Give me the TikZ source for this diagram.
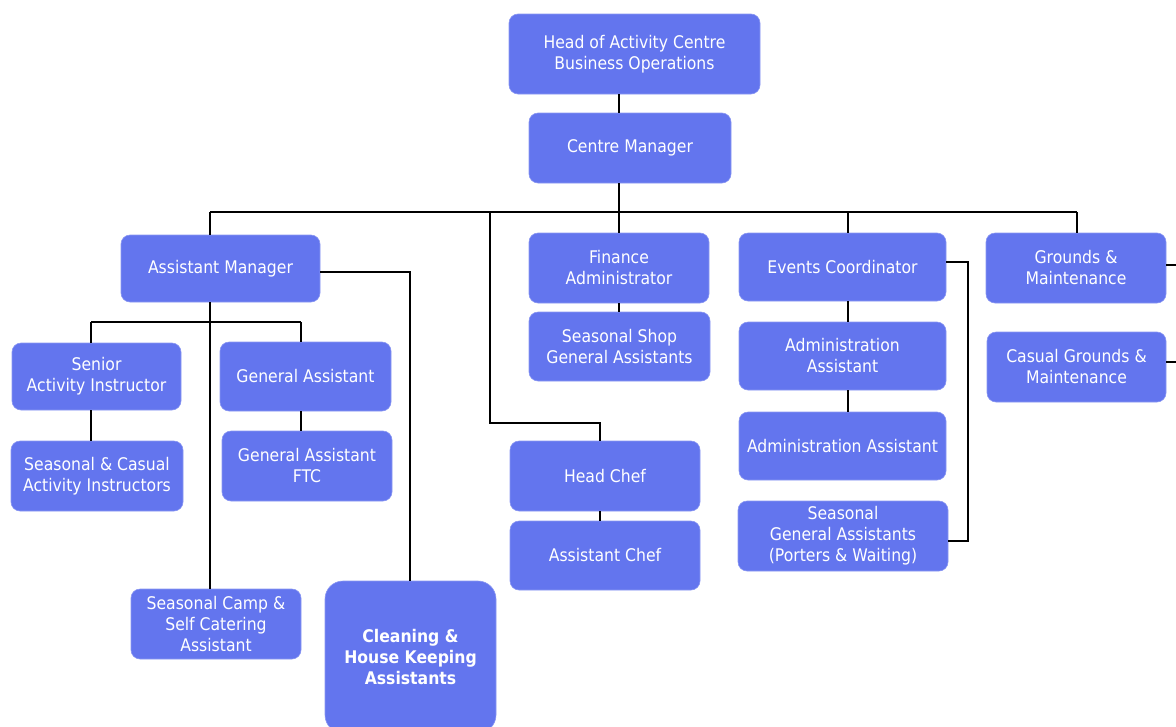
\documentclass[tikz,border=0pt]{standalone}
\usepackage{fontspec}
\setmainfont{DejaVu Sans}[FakeStretch=0.9]
\definecolor{boxblue}{HTML}{6375EE}
\definecolor{boxedge}{HTML}{8A97F2}
\begin{document}
\begin{tikzpicture}[x=1pt,y=-1pt,
  box/.style={rectangle, rounded corners=9pt, fill=boxblue, draw=boxedge, line width=0.6pt,
    text=white, align=center, inner sep=0pt, font=\fontsize{17.4}{21}\selectfont},
  conn/.style={draw=black, line width=1.6pt}]
\useasboundingbox (0,0) rectangle (1176,726);
% nodes
\node[box, minimum width=251pt, minimum height=80pt] (head) at (634.5,54) {Head of Activity Centre\\Business Operations};
\node[box, minimum width=202pt, minimum height=70pt] (cm) at (630,148) {Centre Manager};
\node[box, minimum width=199pt, minimum height=67pt] (am) at (220.5,268.5) {Assistant Manager};
\node[box, minimum width=169pt, minimum height=67pt] (sai) at (96.5,376.5) {Senior\\Activity Instructor};
\node[box, minimum width=172pt, minimum height=70pt] (sca) at (97,476) {Seasonal \& Casual\\Activity Instructors};
\node[box, minimum width=171pt, minimum height=69pt] (ga) at (305.5,376.5) {General Assistant};
\node[box, minimum width=170pt, minimum height=70pt] (gaf) at (307,466) {General Assistant\\FTC};
\node[box, minimum width=170pt, minimum height=70pt] (scs) at (216,624) {Seasonal Camp \&\\Self Catering\\Assistant};
\node[box, rounded corners=18pt, minimum width=171pt, minimum height=152pt, font=\fontsize{17.4}{21}\selectfont\bfseries] (clean) at (410.5,657) {Cleaning \&\\House Keeping\\Assistants};
\node[box, minimum width=180pt, minimum height=70pt] (fin) at (619,268) {Finance\\Administrator};
\node[box, minimum width=181pt, minimum height=69pt] (shop) at (619.5,346.5) {Seasonal Shop\\General Assistants};
\node[box, minimum width=190pt, minimum height=70pt] (chef) at (605,476) {Head Chef};
\node[box, minimum width=190pt, minimum height=69pt] (achef) at (605,555.5) {Assistant Chef};
\node[box, minimum width=207pt, minimum height=68pt] (ev) at (842.5,267) {Events Coordinator};
\node[box, minimum width=207pt, minimum height=68pt] (adm1) at (842.5,356) {Administration\\Assistant};
\node[box, minimum width=207pt, minimum height=68pt] (adm2) at (842.5,446) {Administration Assistant};
\node[box, minimum width=210pt, minimum height=70pt] (sga) at (843,536) {Seasonal\\General Assistants\\(Porters \& Waiting)};
\node[box, minimum width=180pt, minimum height=70pt] (gm) at (1076,268) {Grounds \&\\Maintenance};
\node[box, minimum width=179pt, minimum height=70pt] (cgm) at (1076.5,367) {Casual Grounds \&\\Maintenance};
% junction coordinates
\coordinate (trunk) at (619,212);
\coordinate (busL) at (210,212);
\coordinate (busR) at (1077,212);
\coordinate (hcj) at (490,212);
\coordinate (hcturn) at (600,423);
\coordinate (evj) at (848,212);
\coordinate (amR) at (410,272);
\coordinate (amBus) at (210,322);
\coordinate (amBusL) at (91,322);
\coordinate (amBusR) at (301,322);
\coordinate (evR) at (968,262);
\coordinate (gmEnd) at (1176,265);
\coordinate (cgmEnd) at (1176,362);
% connectors
\begin{scope}[every path/.style={conn}]
\draw (head.south -| trunk) -- (cm.north -| trunk);
\draw (cm.south -| trunk) -- (fin.north -| trunk);
\draw (busL) -- (busR);
\draw (busL) -- (am.north -| busL);
\draw (evj) -- (ev.north -| evj);
\draw (busR) -- (gm.north -| busR);
\draw (hcj) |- (hcturn) -- (chef.north -| hcturn);
\draw (chef.south -| hcturn) -- (achef.north -| hcturn);
\draw (fin.south -| trunk) -- (shop.north -| trunk);
\draw (am.south -| amBus) -- (scs.north -| amBus);
\draw (amBusL) -- (amBusR);
\draw (amBusL) -- (sai.north -| amBusL);
\draw (amBusR) -- (ga.north -| amBusR);
\draw (sai.south -| amBusL) -- (sca.north -| amBusL);
\draw (ga.south -| amBusR) -- (gaf.north -| amBusR);
\draw (am.east |- amR) -- (amR) -- (clean.north -| amR);
\draw (ev.south -| evj) -- (adm1.north -| evj);
\draw (adm1.south -| evj) -- (adm2.north -| evj);
\draw (ev.east |- evR) -- (evR) |- (sga.east |- 0,541);
\draw (gm.east |- gmEnd) -- (gmEnd);
\draw (cgm.east |- cgmEnd) -- (cgmEnd);
\end{scope}
\end{tikzpicture}
\end{document}
